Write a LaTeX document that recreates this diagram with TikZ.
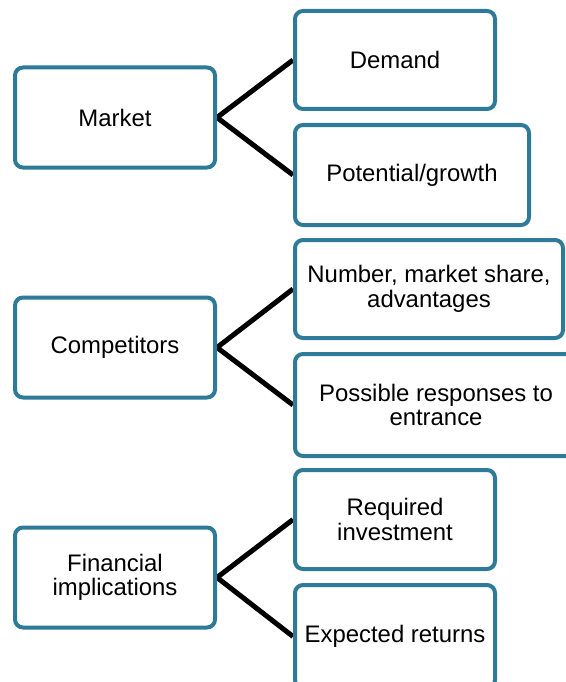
\documentclass[tikz,border=0pt]{standalone}
\usepackage{fontspec}
\setmainfont{Liberation Sans}
\usetikzlibrary{backgrounds}
\definecolor{boxblue}{RGB}{46,123,153}
\tikzset{
  box/.style={draw=boxblue, fill=white, line width=4pt, rounded corners=8pt,
    inner sep=0pt, align=center, minimum height=100pt,
    font=\fontsize{23.9}{24.5}\selectfont},
  conn/.style={draw=black, line width=5pt}
}
\begin{document}
\begin{tikzpicture}[x=1pt,y=-1pt]
\useasboundingbox (0,0) rectangle (565,682);
% left column
\node[box, minimum width=200pt] (market) at (115,117.5) {Market};
\node[box, minimum width=200pt] (comp) at (115,347.5) {Competitors};
\node[box, minimum width=200pt] (fin) at (115,577.5) {Financial\\implications};
% right column
\node[box, minimum width=200pt, minimum height=98pt] (demand) at (395,60) {Demand};
\node[box, minimum width=234pt] (pot) at (412,175) {Potential/growth};
\node[box, minimum width=268pt, minimum height=98pt] (num) at (429,289) {Number, market share,\\advantages};
\node[box, minimum width=282pt, minimum height=102pt] (poss) at (436,405) {Possible responses to\\entrance};
\node[box, minimum width=200pt, minimum height=99pt] (req) at (395,519.5) {Required\\investment};
\node[box, minimum width=200pt, minimum height=103pt] (exp) at (395,636.5) {Expected returns};
\begin{pgfonlayer}{background}
\draw[conn] (demand.west) -- (market.east) -- (pot.west);
\draw[conn] (num.west) -- (comp.east) -- (poss.west);
\draw[conn] (req.west) -- (fin.east) -- (exp.west);
\end{pgfonlayer}
\end{tikzpicture}
\end{document}
